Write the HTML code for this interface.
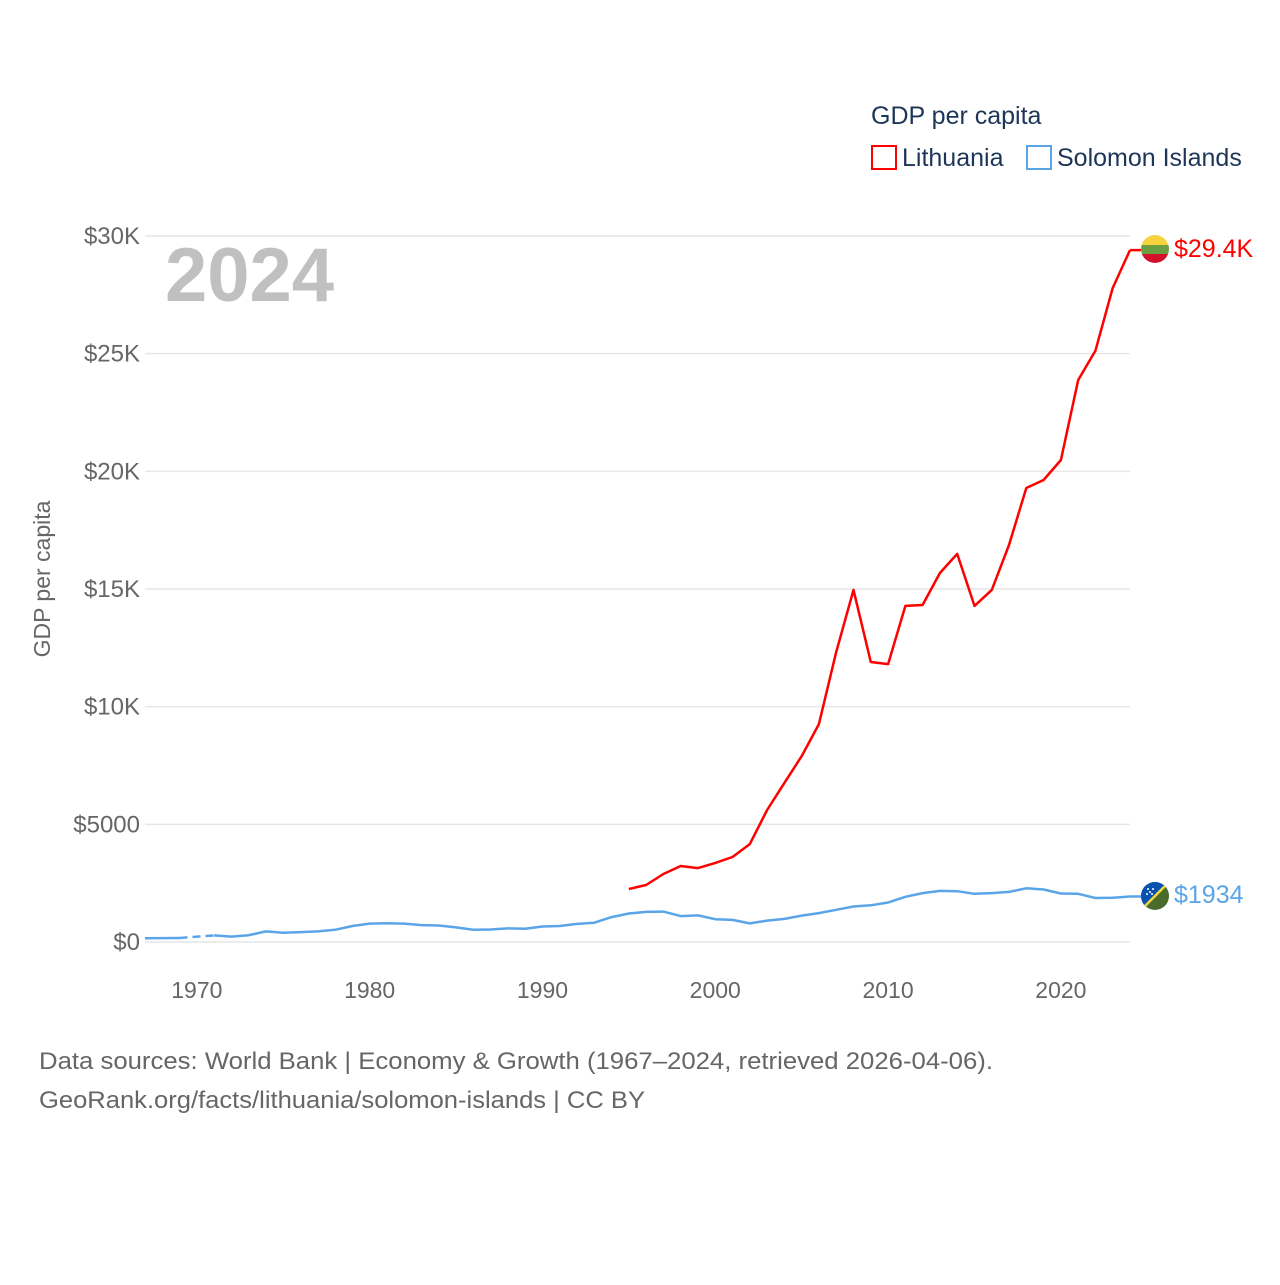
<!DOCTYPE html>
<html><head><meta charset="utf-8"><style>
body{margin:0;background:#fff;font-family:"Liberation Sans",sans-serif}
svg text{font-family:"Liberation Sans",sans-serif}
</style></head><body>
<svg width="1280" height="1280" viewBox="0 0 1280 1280">
<g>
<text x="871" y="124" font-size="25" fill="#1d3557">GDP per capita</text>
<rect x="872" y="146" width="24" height="23" fill="none" stroke="#f00" stroke-width="2"/>
<text x="902" y="166" font-size="25" fill="#1d3557">Lithuania</text>
<rect x="1027" y="146" width="24" height="23" fill="none" stroke="#5aa5e8" stroke-width="2"/>
<text x="1057" y="166" font-size="25" fill="#1d3557">Solomon Islands</text>
</g>
<text x="165" y="301" font-size="76" font-weight="bold" fill="#c0c0c0">2024</text>
<g id="grid"></g>
<g id="yticks"></g>
<g id="xticks"></g>
<text transform="translate(50,579) rotate(-90)" text-anchor="middle" font-size="23" fill="#666">GDP per capita</text>
<g id="series"></g>
<g>
<clipPath id="c1"><circle cx="1155" cy="249" r="14"/></clipPath>
<g clip-path="url(#c1)"><rect x="1141" y="235" width="28" height="10" fill="#f5d23e"/><rect x="1141" y="245" width="28" height="9" fill="#6a9f41"/><rect x="1141" y="254" width="28" height="10" fill="#d4102d"/></g>
</g>
<text x="1174" y="257" font-size="25" fill="#f00">$29.4K</text>
<g>
<clipPath id="c2"><circle cx="1155" cy="896" r="14"/></clipPath>
<g clip-path="url(#c2)"><rect x="1141" y="882" width="28" height="28" fill="#4a6b2c"/><polygon points="1141,882 1169,882 1141,910" fill="#0b51b2"/><line x1="1169" y1="882" x2="1141" y2="910" stroke="#f1d73a" stroke-width="2.5"/>
<circle cx="1148" cy="889" r="1" fill="#fff"/><circle cx="1153" cy="889" r="1" fill="#fff"/><circle cx="1150" cy="892" r="1" fill="#fff"/><circle cx="1147" cy="894" r="1" fill="#fff"/><circle cx="1152" cy="894" r="1" fill="#fff"/></g>
</g>
<text x="1174" y="903" font-size="25" fill="#5aa5e8">$1934</text>
<text x="39" y="1069" font-size="24" fill="#666" textLength="954" lengthAdjust="spacingAndGlyphs">Data sources: World Bank | Economy &amp; Growth (1967–2024, retrieved 2026-04-06).</text>
<text x="39" y="1108" font-size="24" fill="#666" textLength="606" lengthAdjust="spacingAndGlyphs">GeoRank.org/facts/lithuania/solomon-islands | CC BY</text>
</svg>
<script>
const yTicks=[0,5000,10000,15000,20000,25000,30000];
const yTickLabels=["$0","$5000","$10K","$15K","$20K","$25K","$30K"];
const xTicks=[1970,1980,1990,2000,2010,2020];
const ltYears=[1995,1996,1997,1998,1999,2000,2001,2002,2003,2004,2005,2006,2007,2008,2009,2010,2011,2012,2013,2014,2015,2016,2017,2018,2019,2020,2021,2022,2023,2024];
const ltValues=[2250,2420,2890,3230,3140,3360,3610,4160,5610,6760,7900,9260,12320,14960,11900,11810,14280,14320,15680,16490,14280,14960,16870,19290,19630,20480,23880,25120,27790,29400];
const sbYears=[1967,1968,1969,1970,1971,1972,1973,1974,1975,1976,1977,1978,1979,1980,1981,1982,1983,1984,1985,1986,1987,1988,1989,1990,1991,1992,1993,1994,1995,1996,1997,1998,1999,2000,2001,2002,2003,2004,2005,2006,2007,2008,2009,2010,2011,2012,2013,2014,2015,2016,2017,2018,2019,2020,2021,2022,2023,2024];
const sbValues=[160,165,170,null,280,230,290,450,390,420,450,520,680,780,800,780,720,700,620,520,530,580,560,660,680,770,820,1060,1210,1280,1290,1100,1130,970,940,790,910,980,1120,1230,1370,1510,1560,1680,1920,2080,2170,2160,2050,2080,2130,2280,2230,2060,2050,1870,1880,1934];
const NS='http://www.w3.org/2000/svg';
const X=yr=>145+(yr-1967)*(1130-145)/(2024-1967);
const Y=v=>942-v*(942-236)/30000;
function mk(tag,attrs,parent){const e=document.createElementNS(NS,tag);for(const k in attrs)e.setAttribute(k,attrs[k]);parent.appendChild(e);return e;}
const grid=document.getElementById('grid'),yt=document.getElementById('yticks'),xt=document.getElementById('xticks'),ser=document.getElementById('series');
yTicks.forEach((v,i)=>{
 const l=mk('line',{x1:145,x2:1130,y1:Y(v),y2:Y(v),stroke:'#e6e6e6','stroke-width':1.5},grid);
 
 
 const t=mk('text',{x:140,y:Y(v)+8,'text-anchor':'end','font-size':24,fill:'#666'},yt);
 t.textContent=yTickLabels[i];
 
 
});
xTicks.forEach(v=>{
 const t=mk('text',{x:X(v),y:998,'text-anchor':'middle','font-size':23,fill:'#666'},xt);
 t.textContent=v;
 
 
});
function draw(years,vals,color,name){
 let segs=[],cur=[],gaps=[];
 for(let i=0;i<years.length;i++){
  if(vals[i]==null){if(cur.length)segs.push(cur);cur=[];
   let a=i-1,b=i+1;while(b<years.length&&vals[b]==null)b++;
   if(a>=0&&b<years.length)gaps.push([[X(years[a]),Y(vals[a])],[X(years[b]),Y(vals[b])]]);}
  else cur.push([X(years[i]),Y(vals[i])]);
 }
 if(cur.length)segs.push(cur);
 segs.forEach(s=>{
  const p=mk('path',{d:'M'+s.map(q=>q[0].toFixed(1)+','+q[1].toFixed(1)).join('L'),fill:'none',stroke:color,'stroke-width':2.5,'stroke-linejoin':'round'},ser);
  
  
 });
 gaps.forEach(g=>{
  const p=mk('path',{d:`M${g[0][0]},${g[0][1]}L${g[1][0]},${g[1][1]}`,fill:'none',stroke:color,'stroke-width':2.5,'stroke-dasharray':'8,5'},ser);
  
  
 });
 const n=years.length-1;
 const c=mk('line',{x1:X(years[n]),y1:Y(vals[n]),x2:1141,y2:Y(vals[n]),stroke:color,'stroke-width':2.5},ser);
 
 
}
draw(sbYears,sbValues,'#5aa5e8','solomon');
draw(ltYears,ltValues,'#f00','lithuania');
</script>
</body></html>
